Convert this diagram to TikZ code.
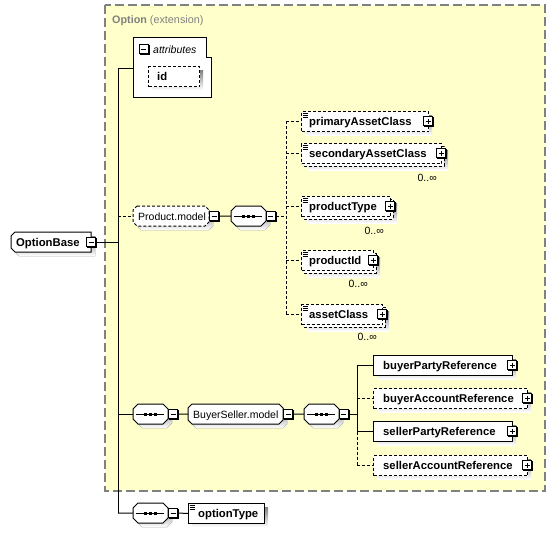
\documentclass[tikz,border=0pt]{standalone}
\usepackage{fontspec}
\setmainfont{Liberation Sans}
\definecolor{bgyellow}{RGB}{255,255,204}
\definecolor{framegray}{RGB}{128,128,128}
\definecolor{shade}{RGB}{192,192,192}
\tikzset{
  x=1pt,y=-1pt,
  dsh/.style={dash pattern=on 3pt off 2pt},
  conn/.style={line width=1pt},
  bx/.style={draw,fill=white,line width=1pt,inner sep=0pt,anchor=north west},
  btxt/.style={font=\fontsize{11.3}{13}\selectfont\bfseries,anchor=base west,inner sep=0pt},
  rtxt/.style={font=\fontsize{10.5}{12}\selectfont,anchor=base west,inner sep=0pt},
  itxt/.style={font=\fontsize{10.5}{12}\selectfont\itshape,anchor=base west,inner sep=0pt},
  occ/.style={font=\fontsize{10.5}{12}\selectfont,anchor=base east,inner sep=0pt},
  pmb/.style={draw,fill=white,line width=1pt,minimum size=9pt,inner sep=0pt},
  pmminus/.style={path picture={\draw[line width=1pt] ([xshift=2pt]path picture bounding box.west) -- ([xshift=-2pt]path picture bounding box.east);}},
  pmplus/.style={path picture={\draw[line width=1pt] ([xshift=2pt]path picture bounding box.west) -- ([xshift=-2pt]path picture bounding box.east) ([yshift=-2pt]path picture bounding box.north) -- ([yshift=2pt]path picture bounding box.south);}},
}
% element box: name, x, ytop, width, style
\newcommand\elbox[5]{%
  \fill[shade] (#2+4,#3+4) rectangle ++(#4,20);
  \node[bx,#5,minimum width=#4pt,minimum height=20pt] (#1) at (#2,#3) {};}
% element box with several occurrences
\newcommand\elboxm[5]{%
  \fill[shade] (#2+7,#3+7) rectangle ++(#4,20);
  \draw[fill=white,line width=1pt,#5] (#2+3,#3+3) rectangle ++(#4,20);
  \node[bx,#5,minimum width=#4pt,minimum height=20pt] (#1) at (#2,#3) {};}
% simple content icon
\newcommand\eqic[2]{\foreach \k in {2,4,6}{\draw[line width=0.7pt] (#1+1.5,#2+\k) -- ++(5,0);}}
% chamfered box: name, x, y, w, h, chamfer, style
\newcommand\octbox[7]{%
  \fill[shade,shift={(4,4)}] (#2+#6,#3) -- (#2+#4-#6,#3) -- (#2+#4,#3+#6) -- (#2+#4,#3+#5-#6) -- (#2+#4-#6,#3+#5) -- (#2+#6,#3+#5) -- (#2,#3+#5-#6) -- (#2,#3+#6) -- cycle;
  \draw[fill=white,line width=1pt,#7] (#2+#6,#3) -- (#2+#4-#6,#3) -- (#2+#4,#3+#6) -- (#2+#4,#3+#5-#6) -- (#2+#4-#6,#3+#5) -- (#2+#6,#3+#5) -- (#2,#3+#5-#6) -- (#2,#3+#6) -- cycle;
  \node[inner sep=0pt,minimum width=#4pt,minimum height=#5pt,anchor=north west] (#1) at (#2,#3) {};}
% sequence compositor
\newcommand\seqbox[3]{%
  \octbox{#1}{#2}{#3}{35}{20}{5}{solid}
  \draw[line width=1pt] (#2+3,#3+10) -- (#2+31,#3+10);
  \foreach \d in {-5,0,5}{\fill (#2+16+\d,#3+8.5) rectangle ++(3,3);}}
% plus / minus box
\newcommand\pmbx[4]{%
  \fill (#2-4,#3-4) rectangle (#2+6,#3+6);
  \node[pmb,#4] (#1) at (#2,#3) {};}

\begin{document}
\begin{tikzpicture}
\useasboundingbox (0,0) rectangle (556,533);
% extension frame
\draw[fill=bgyellow,draw=framegray,line width=1.2pt,dash pattern=on 9pt off 4pt] (105,5) rectangle (545,491);
\node[anchor=base west,inner sep=0pt,text=framegray,font=\fontsize{10.8}{13}\selectfont] (title) at (112,23) {\textbf{Option} (extension)};

% attributes
\draw[fill=white,line width=1pt] (133,37) -- (206,37) -- (206,57) -- (211,57) -- (211,97) -- (133,97) -- cycle;
\node[inner sep=0pt,minimum width=78pt,minimum height=60pt,anchor=north west] (attr) at (133,37) {};
\pmbx{attrm}{143.5}{49}{pmminus}
\node[itxt] (attrt) at (153,53) {attributes};
\elbox{id}{148}{66}{51}{dsh}
\node[btxt] (idt) at (157,80) {id};

% OptionBase
\fill[shade,shift={(4,4)}] (15,232) -- (91,232) -- (91,252) -- (15,252) -- (11,248) -- (11,236) -- cycle;
\draw[fill=white,line width=1pt] (15,232) -- (91,232) -- (91,252) -- (15,252) -- (11,248) -- (11,236) -- cycle;
\node[inner sep=0pt,minimum width=80pt,minimum height=20pt,anchor=north west] (ob) at (11,232) {};
\node[btxt] (obt) at (16,246) {OptionBase};
\pmbx{obm}{91}{242}{pmminus}

% Product.model
\octbox{prod}{133}{206}{76}{20}{4}{dsh}
\node[rtxt] (prodt) at (138,220) {Product.model};
\pmbx{prodm}{214}{216}{pmminus}
\seqbox{seqP}{231}{206}
\pmbx{seqPm}{270.5}{216}{pmminus}

\elbox{pac}{301}{111}{127}{dsh}
\eqic{301}{111}
\node[btxt] (pact) at (309,125) {primaryAssetClass};
\pmbx{pacp}{428}{121}{pmplus}

\elboxm{sac}{301}{143}{140}{dsh}
\eqic{301}{143}
\node[btxt] (sact) at (309,157) {secondaryAssetClass};
\pmbx{sacp}{441}{153}{pmplus}
\node[occ] (saco) at (437,181) {0..∞};

\elboxm{pt}{301}{196}{89}{dsh}
\eqic{301}{196}
\node[btxt] (ptt) at (309,210) {productType};
\pmbx{ptp}{390}{206}{pmplus}
\node[occ] (pto) at (384,234) {0..∞};

\elboxm{pid}{301}{250}{72}{dsh}
\eqic{301}{250}
\node[btxt] (pidt) at (309,264) {productId};
\pmbx{pidp}{373}{260}{pmplus}
\node[occ] (pido) at (368,287) {0..∞};

\elboxm{ac}{301}{304}{81}{dsh}
\eqic{301}{304}
\node[btxt] (act) at (309,318) {assetClass};
\pmbx{acp}{382}{314}{pmplus}
\node[occ] (aco) at (377,340) {0..∞};

% BuyerSeller.model row
\seqbox{seqB}{133}{404}
\pmbx{seqBm}{173}{414}{pmminus}
\octbox{bs}{188}{404}{95}{20}{4}{solid}
\node[rtxt] (bst) at (193,418) {BuyerSeller.model};
\pmbx{bsm}{288}{414}{pmminus}
\seqbox{seqS}{304}{404}
\pmbx{seqSm}{343.5}{414}{pmminus}

\elbox{bpr}{373}{355}{139}{solid}
\node[btxt] (bprt) at (383,369) {buyerPartyReference};
\pmbx{bprp}{512}{365}{pmplus}
\elbox{bar}{373}{388}{154}{dsh}
\node[btxt] (bart) at (383,402) {buyerAccountReference};
\pmbx{barp}{527}{398}{pmplus}
\elbox{spr}{373}{421}{139}{solid}
\node[btxt] (sprt) at (383,435) {sellerPartyReference};
\pmbx{sprp}{512}{431}{pmplus}
\elbox{sar}{373}{455}{154}{dsh}
\node[btxt] (sart) at (383,469) {sellerAccountReference};
\pmbx{sarp}{527}{465}{pmplus}

% optionType row
\seqbox{seqO}{133}{503}
\pmbx{seqOm}{173}{513}{pmminus}
\elbox{ot}{188}{503}{76}{solid}
\eqic{188}{503}
\node[btxt] (ott) at (198,517) {optionType};

% junctions
\coordinate (mvt) at (118,68);
\coordinate (mvb) at (118,513);
\coordinate (vPt) at (286,121);
\coordinate (vPb) at (286,314);
\coordinate (vBt) at (357,365);
\coordinate (vBb) at (357,465);

% connectors
\draw[conn] (mvt) -- (mvb);
\draw[conn] (mvt) -- (mvt -| attr.west);
\draw[conn,dsh] (mvt |- prod.west) -- (prod.west);
\draw[conn] (obm.east) -- (obm.east -| mvt);
\draw[conn] (mvt |- seqB.west) -- (seqB.west);
\draw[conn] (mvb) -- (seqO.west);
\draw[conn] (prodm.east) -- (seqP.west);
\draw[conn,dsh] (seqPm.east) -- (seqPm.east -| vPt);
\draw[conn,dsh] (vPt) -- (vPb);
\foreach \n in {pac,sac,pt,pid,ac}{\draw[conn,dsh] (vPt |- \n.west) -- (\n.west);}
\draw[conn] (seqBm.east) -- (bs.west);
\draw[conn] (bsm.east) -- (seqS.west);
\draw[conn] (seqSm.east) -- (seqSm.east -| vBt);
\draw[conn] (vBt) -- (vBt |- spr.west);
\draw[conn,dsh] (vBt |- spr.west) -- (vBb);
\draw[conn] (vBt |- bpr.west) -- (bpr.west);
\draw[conn,dsh] (vBt |- bar.west) -- (bar.west);
\draw[conn] (vBt |- spr.west) -- (spr.west);
\draw[conn,dsh] (vBt |- sar.west) -- (sar.west);
\draw[conn] (seqOm.east) -- (ot.west);
\end{tikzpicture}
\end{document}
